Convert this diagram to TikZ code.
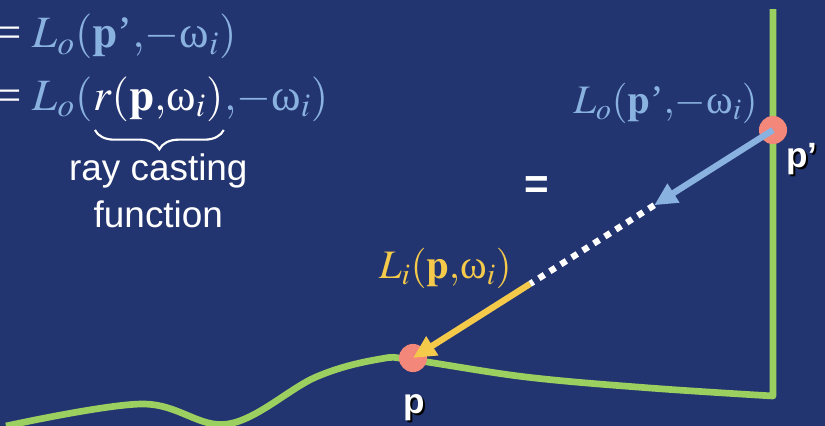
\documentclass[tikz,border=0pt]{standalone}
\usepackage{amsmath}
\usepackage{mathptmx}
\usepackage[no-math]{fontspec}
\setmainfont{Liberation Serif}
\setsansfont{Liberation Sans}
\usetikzlibrary{arrows.meta,positioning,calc,decorations.pathreplacing}
\definecolor{bgblue}{RGB}{35,53,112}
\definecolor{skyblue}{RGB}{138,178,224}
\definecolor{surfgreen}{RGB}{155,207,95}
\definecolor{raygold}{RGB}{245,202,75}
\definecolor{hitred}{RGB}{242,135,122}
\newcommand\shadowed[1]{\makebox[0pt][l]{\kern1.2pt\raisebox{-1.2pt}{\color{black}#1}}#1}
\newcommand\om{\text{ω}}

\begin{document}
\begin{tikzpicture}[x=0.02cm,y=-0.02cm,
  eq/.style={inner sep=0pt,text=skyblue,font=\fontsize{25.5}{30}\selectfont},
  lbl/.style={inner sep=0pt,font=\fontsize{23}{28}\selectfont},
  pt/.style={inner sep=0pt,text=white,font=\sffamily\bfseries\fontsize{20}{24}\selectfont},
  hit/.style={circle,fill=hitred,minimum size=16pt,inner sep=0pt},
  surf/.style={draw=surfgreen,line width=3.8pt,line join=round},
  ray/.style={-{Triangle[length=13pt,width=12pt]},line width=3.6pt},
  gap/.style={white,line width=3.6pt,dash pattern=on 3.7pt off 3.7pt},
  cast/.style={inner sep=0pt,text=white,align=center,font=\sffamily\fontsize{21}{27}\selectfont},
  brc/.style={white,line width=1.2pt,decorate,decoration={brace,mirror,amplitude=11pt}}]
\useasboundingbox (0,0) rectangle (825,426);
\fill[bgblue] (0,0) rectangle (825,426);
\node[eq,anchor=base west] (eqa) at (-4,48) {{\color{white}=} $L_o(\mathbf{p}\text{’}{,}{-}\om_i)$};
\node[eq,anchor=base west] (eqb) at (-4,110) {{\color{white}=} $L_o($};
\node[eq,anchor=base west,text=white] (rcast) at (eqb.base east) {$r(\mathbf{p}{,}\om_i)$};
\node[eq,anchor=base west] (eqc) at (rcast.base east) {${,}{-}\om_i)$};
\draw[brc] ($(rcast.base west)+(2,20)$) -- ($(rcast.base east)+(0,20)$);
\node[cast,anchor=north] (castlbl) at ($(rcast.base)+(0,43)$) {ray casting\\function};
\draw[surf] plot[smooth,tension=0.6] coordinates {(6,426) (142,404) (228,424) (316,377) (380,359) (413,360) (526,377) (650,388) (773,396)} -- (773,9);
\node[hit] (pp) at (773,130) {};
\node[hit] (p) at (413,358) {};
\coordinate (ha) at ($(pp)!0.33!(p)$);
\coordinate (hb) at ($(pp)!0.675!(p)$);
\draw[ray,skyblue] (pp.center) -- (ha);
\draw[gap] (ha) -- (hb);
\draw[ray,raygold] (hb) -- (p.center);
\node[lbl,text=skyblue,anchor=base east] (lop) at (758,113) {$L_o(\mathbf{p}\text{’}{,}{-}\om_i)$};
\node[lbl,text=raygold,anchor=base east] (lip) at (512,278) {$L_i(\mathbf{p}{,}\om_i)$};
\node[pt,anchor=base west] (pplbl) at (786,167) {\shadowed{p’}};
\node[pt,anchor=base] (plbl) at (414,413) {\shadowed{p}};
\node[pt,font=\sffamily\bfseries\fontsize{24}{28}\selectfont] (eqsign) at (537,188) {=};
\end{tikzpicture}
\end{document}
